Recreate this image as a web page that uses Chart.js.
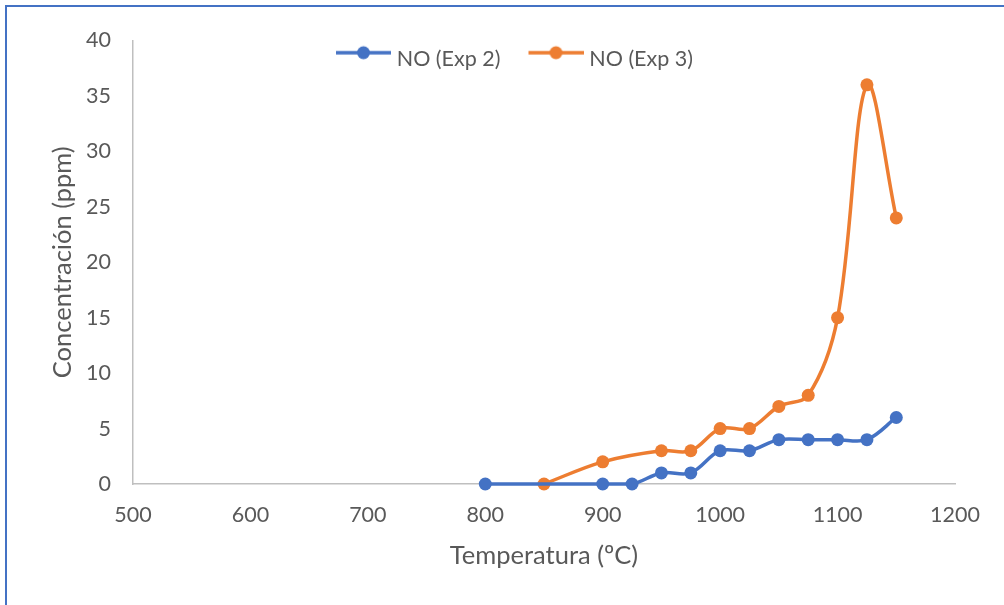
<!DOCTYPE html>
<html>
<head>
<meta charset="utf-8">
<script src="https://cdn.jsdelivr.net/npm/chart.js@4/dist/chart.umd.min.js"></script>
<style>
  html, body { margin: 0; padding: 0; background: #ffffff; }
  #wrap { width: 1004px; height: 605px; position: relative; }
</style>
</head>
<body>
<div id="wrap"><canvas id="chart" width="1004" height="605"></canvas></div>
<script>
// Temperature (ºC) and NO concentration (ppm) per experiment
const tempExp2 = [800, 900, 925, 950, 975, 1000, 1025, 1050, 1075, 1100, 1125, 1150];
const noExp2   = [0, 0, 0, 1, 1, 3, 3, 4, 4, 4, 4, 6];
const tempExp3 = [850, 900, 950, 975, 1000, 1025, 1050, 1075, 1100, 1125, 1150];
const noExp3   = [0, 2, 3, 3, 5, 5, 7, 8, 15, 36, 24];

const seriesNames = ['NO (Exp 2)', 'NO (Exp 3)'];
const xTicks = [500, 600, 700, 800, 900, 1000, 1100, 1200];
const yTicks = [0, 5, 10, 15, 20, 25, 30, 35, 40];

const BLUE = '#4472C4';
const ORANGE = '#ED7D31';
const TEXT = '#595959';
const FONT = 'Lato, "Open Sans", sans-serif';

const toPoints = (xs, ys) => xs.map((x, i) => ({ x: x, y: ys[i] }));

// Legend symbol: short line with a round marker in the middle
function legendMarker(color) {
  const c = document.createElement('canvas');
  c.width = 80; c.height = 28;
  const g = c.getContext('2d');
  g.strokeStyle = color;
  g.lineWidth = 3.5;
  g.beginPath(); g.moveTo(25, 8); g.lineTo(80, 8); g.stroke();
  g.fillStyle = color;
  g.beginPath(); g.arc(52.5, 8, 6.5, 0, Math.PI * 2); g.fill();
  return c;
}

// Outer frame and white background
const frame = {
  id: 'frame',
  beforeDraw(chart) {
    const ctx = chart.ctx;
    ctx.save();
    ctx.fillStyle = '#ffffff';
    ctx.fillRect(0, 0, chart.width, chart.height);
    ctx.fillStyle = BLUE;
    ctx.fillRect(5, 5, 2, chart.height - 5);
    ctx.fillRect(5, 5, chart.width - 5, 2);
    ctx.restore();
  }
};

// Place the legend row inside the top of the plot
const legendShift = {
  id: 'legendShift',
  afterLayout(chart) {
    const lg = chart.legend;
    if (lg) {
      lg.left += 4; lg.right += 4;
      lg.top += 39; lg.bottom += 39;
    }
  }
};

const markers = [legendMarker(BLUE), legendMarker(ORANGE)];

const lineStyle = (color) => ({
  borderColor: color,
  backgroundColor: color,
  borderWidth: 3.5,
  pointRadius: 6.5,
  pointHoverRadius: 6.5,
  pointBorderWidth: 0,
  tension: 0.35,
  fill: false,
  clip: false
});

new Chart(document.getElementById('chart'), {
  type: 'line',
  data: {
    datasets: [
      Object.assign({ label: seriesNames[0], data: toPoints(tempExp2, noExp2) }, lineStyle(BLUE)),
      Object.assign({ label: seriesNames[1], data: toPoints(tempExp3, noExp3) }, lineStyle(ORANGE))
    ]
  },
  options: {
    responsive: false,
    animation: false,
    devicePixelRatio: 1,
    layout: { padding: { left: 46, right: 49, top: 1, bottom: 0 } },
    plugins: {
      tooltip: { enabled: false },
      legend: {
        position: 'top',
        align: 'center',
        labels: {
          usePointStyle: true,
          pointStyleWidth: 70,
          boxHeight: 22,
          padding: 8,
          color: TEXT,
          font: { family: FONT, size: 21.5 },
          generateLabels(chart) {
            return chart.data.datasets.map((ds, i) => ({
              text: ds.label,
              fillStyle: ds.borderColor,
              strokeStyle: ds.borderColor,
              lineWidth: 0,
              pointStyle: markers[i],
              fontColor: TEXT,
              hidden: false,
              datasetIndex: i
            }));
          }
        }
      }
    },
    scales: {
      x: {
        type: 'linear',
        min: xTicks[0],
        max: xTicks[xTicks.length - 1],
        afterBuildTicks(scale) { scale.ticks = xTicks.map(v => ({ value: v })); },
        afterFit(scale) { scale.height = 121; },
        grid: { display: false, drawTicks: false },
        border: { display: true, color: '#BFBFBF', width: 1.5 },
        ticks: {
          color: TEXT, font: { family: FONT, size: 21.5 }, padding: 18, maxRotation: 0,
          callback: (v) => String(v)
        },
        title: {
          display: true,
          text: 'Temperatura (ºC)',
          color: TEXT,
          font: { family: FONT, size: 25.5 },
          padding: { top: 4, bottom: 34 }
        }
      },
      y: {
        type: 'linear',
        min: yTicks[0],
        max: yTicks[yTicks.length - 1],
        afterBuildTicks(scale) { scale.ticks = yTicks.map(v => ({ value: v })); },
        afterFit(scale) { scale.width = 87; },
        grid: { display: false, drawTicks: false },
        border: { display: true, color: '#BFBFBF', width: 1.5 },
        ticks: {
          color: TEXT, font: { family: FONT, size: 21.5 }, padding: 22,
          callback: (v) => String(v)
        },
        title: {
          display: true,
          text: 'Concentración (ppm)',
          color: TEXT,
          font: { family: FONT, size: 25.5 },
          padding: { top: 1, bottom: 4 }
        }
      }
    }
  },
  plugins: [frame, legendShift]
});
</script>
</body>
</html>
